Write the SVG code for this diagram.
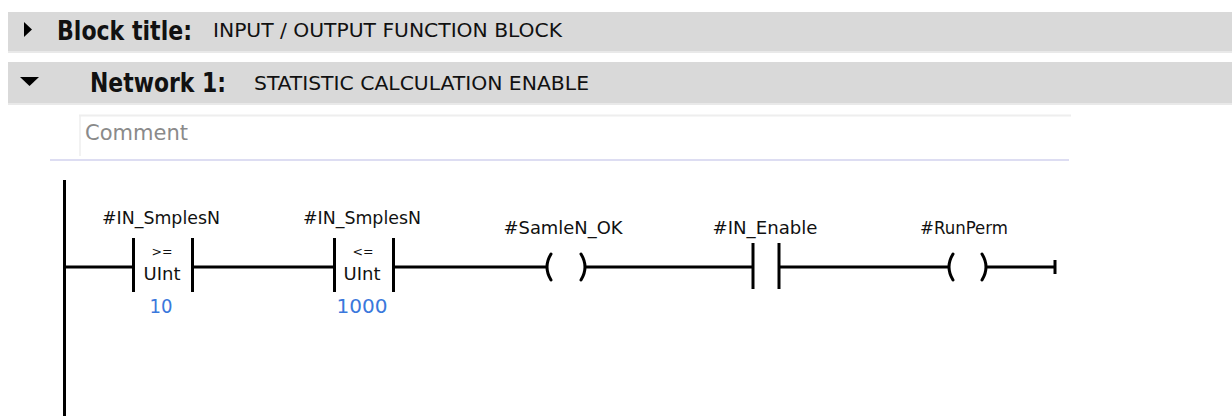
<svg xmlns="http://www.w3.org/2000/svg" width="1232" height="416" viewBox="0 0 1232 416">
  <style>
    .bar { fill: #d9d9d9; }
    .barEdge { stroke: #e9e9e9; stroke-width: 2; }
    .hdrBold { font-family: "DejaVu Sans Condensed", "DejaVu Sans", sans-serif; font-weight: bold; font-size: 26px; fill: #111; }
    .hdrText { font-family: "DejaVu Sans Condensed", "DejaVu Sans", sans-serif; font-size: 20px; fill: #111; }
    .comment { font-family: "DejaVu Sans", sans-serif; font-size: 21px; fill: #8a8a8a; }
    .lbl { font-family: "DejaVu Sans", sans-serif; font-size: 17px; fill: #111; text-anchor: middle; }
    .small { font-family: "DejaVu Sans", sans-serif; font-size: 13px; fill: #111; text-anchor: middle; }
    .num { font-family: "DejaVu Sans", sans-serif; font-size: 19px; fill: #3a78dc; text-anchor: middle; }
    .wire { stroke: #000; stroke-width: 3; fill: none; }
    .coil { stroke: #000; stroke-width: 3; fill: none; stroke-linecap: round; }
  </style>

  <!-- Header bars -->
  <g id="block-title">
    <rect class="bar" x="8" y="12" width="1224" height="40"/>
    <line class="barEdge" x1="8" y1="52" x2="1232" y2="52"/>
    <polygon points="24,22 32,29.5 24,37" fill="#000"/>
    <text class="hdrBold" x="57" y="40" textLength="135" lengthAdjust="spacingAndGlyphs">Block title:</text>
    <text class="hdrText" x="213" y="37" textLength="349" lengthAdjust="spacingAndGlyphs">INPUT / OUTPUT FUNCTION BLOCK</text>
  </g>

  <g id="network-1">
    <rect class="bar" x="8" y="62" width="1224" height="42"/>
    <line class="barEdge" x1="8" y1="104" x2="1232" y2="104"/>
    <polygon points="20,77 39,77 29.5,86" fill="#000"/>
    <text class="hdrBold" x="90" y="92" textLength="136" lengthAdjust="spacingAndGlyphs">Network 1:</text>
    <text class="hdrText" x="254" y="90" textLength="335" lengthAdjust="spacingAndGlyphs">STATISTIC CALCULATION ENABLE</text>
  </g>

  <g id="comment">
    <line x1="79" y1="115.5" x2="1071" y2="115.5" stroke="#eeeeee" stroke-width="2"/>
    <line x1="80" y1="115" x2="80" y2="156" stroke="#eeeeee" stroke-width="1.5"/>
    <line x1="50" y1="160" x2="1069" y2="160" stroke="#d2d2ee" stroke-width="1.5"/>
    <text class="comment" x="85" y="140" textLength="103" lengthAdjust="spacingAndGlyphs">Comment</text>
  </g>

  <!-- Power rail -->
  <g id="power-rail">
    <line class="wire" x1="64.5" y1="180" x2="64.5" y2="416"/>
  </g>

  <!-- Connectors -->
  <g id="connectors">
    <line class="wire" x1="64" y1="267" x2="132" y2="267"/>
    <line class="wire" x1="193" y1="267" x2="334" y2="267"/>
    <line class="wire" x1="394" y1="267" x2="546" y2="267"/>
    <line class="wire" x1="586" y1="267" x2="752" y2="267"/>
    <line class="wire" x1="779" y1="267" x2="948" y2="267"/>
    <line class="wire" x1="987" y1="267" x2="1055" y2="267"/>
    <line class="wire" x1="1055" y1="260" x2="1055" y2="274" stroke-width="2"/>
  </g>

  <!-- CMP >= -->
  <g id="cmp-ge">
    <text class="lbl" x="161" y="224" textLength="118" lengthAdjust="spacingAndGlyphs">#IN_SmplesN</text>
    <line class="wire" x1="133.5" y1="238" x2="133.5" y2="292"/>
    <line class="wire" x1="192.5" y1="238" x2="192.5" y2="292"/>
    <text class="small" x="162" y="256" textLength="21" lengthAdjust="spacingAndGlyphs">&gt;=</text>
    <text class="lbl" x="162" y="280" textLength="37" lengthAdjust="spacingAndGlyphs">UInt</text>
    <text class="num" x="161" y="313" textLength="23" lengthAdjust="spacingAndGlyphs">10</text>
  </g>

  <!-- CMP <= -->
  <g id="cmp-le">
    <text class="lbl" x="362" y="224" textLength="118" lengthAdjust="spacingAndGlyphs">#IN_SmplesN</text>
    <line class="wire" x1="334.5" y1="238" x2="334.5" y2="292"/>
    <line class="wire" x1="393.5" y1="238" x2="393.5" y2="292"/>
    <text class="small" x="363" y="256" textLength="21" lengthAdjust="spacingAndGlyphs">&lt;=</text>
    <text class="lbl" x="362" y="280" textLength="37" lengthAdjust="spacingAndGlyphs">UInt</text>
    <text class="num" x="362" y="313" textLength="51" lengthAdjust="spacingAndGlyphs">1000</text>
  </g>

  <!-- Coil SamleN_OK -->
  <g id="coil-samlen-ok">
    <text class="lbl" x="563" y="234" textLength="119" lengthAdjust="spacingAndGlyphs">#SamleN_OK</text>
    <path class="coil" d="M551,254 Q543,267 551,280"/>
    <path class="coil" d="M581,254 Q589,267 581,280"/>
  </g>

  <!-- Contact IN_Enable -->
  <g id="contact-in-enable">
    <text class="lbl" x="765" y="234" textLength="105" lengthAdjust="spacingAndGlyphs">#IN_Enable</text>
    <line class="wire" x1="753" y1="243" x2="753" y2="289"/>
    <line class="wire" x1="779" y1="243" x2="779" y2="289"/>
  </g>

  <!-- Coil RunPerm -->
  <g id="coil-runperm">
    <text class="lbl" x="964" y="234" textLength="88" lengthAdjust="spacingAndGlyphs">#RunPerm</text>
    <path class="coil" d="M953,254 Q945,267 953,280"/>
    <path class="coil" d="M982,254 Q990,267 982,280"/>
  </g>
</svg>
